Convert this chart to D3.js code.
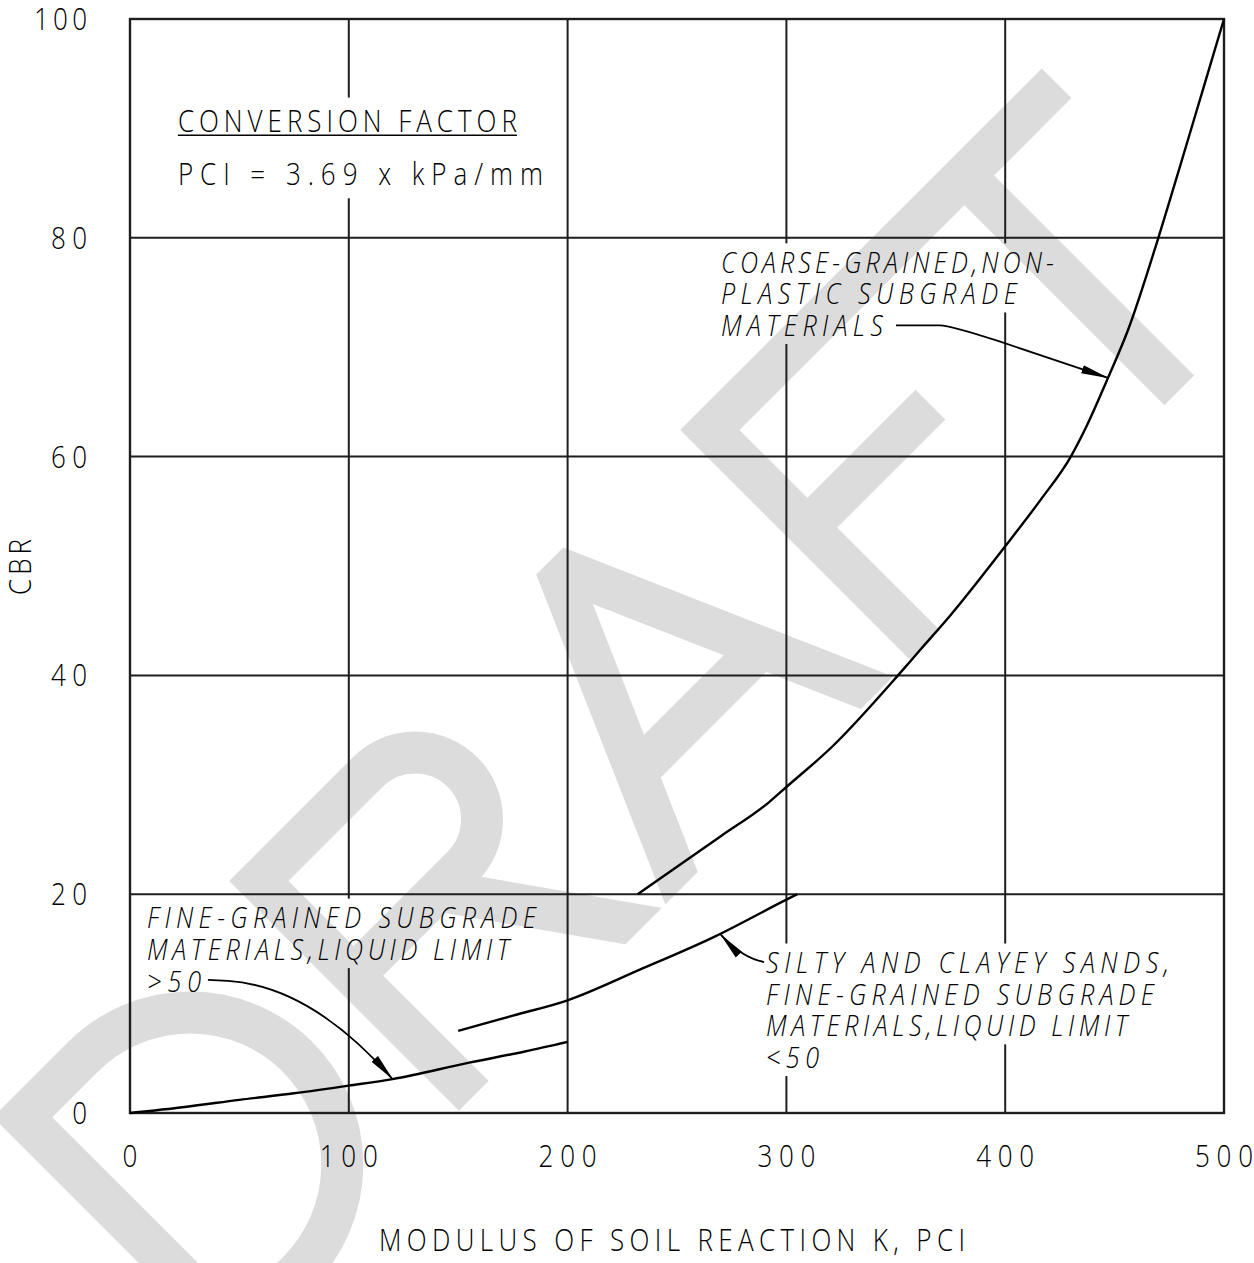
<!DOCTYPE html>
<html>
<head>
<meta charset="utf-8">
<script src="https://cdn.jsdelivr.net/npm/d3@7"></script>
<style>
  html, body { margin: 0; padding: 0; background: #fff; }
  svg { display: block; }
  text { font-family: "Open Sans", "DejaVu Sans", sans-serif; font-weight: 300; font-stretch: 100%; fill: #000; }
  text.note { font-style: italic; }
</style>
</head>
<body>
<svg id="chart" width="1254" height="1263"></svg>
<script>
// ---- Data: modulus of soil reaction K (pci) vs CBR for each soil group ----
const fineK    = [0, 25, 50, 75, 100, 120, 155, 180, 200];
const fineCBR  = [0, 0.55, 1.2, 1.8, 2.5, 3.1, 4.6, 5.6, 6.5];

const siltyK   = [150, 175, 200, 233, 267, 300, 305];
const siltyCBR = [7.5, 8.9, 10.3, 13.1, 16.1, 19.5, 20];

const coarseK   = [232, 250, 270, 292, 300, 321, 351, 361, 375, 400, 416, 430, 437, 447, 456, 470, 480, 490, 500];
const coarseCBR = [20, 22.5, 25.3, 28.4, 29.8, 33.5, 40, 42.3, 45.5, 51.8, 56, 60, 62.7, 67.2, 71.5, 80, 86.6, 93.3, 100];

const xTicks = [0, 100, 200, 300, 400, 500];
const yTicks = [0, 20, 40, 60, 80, 100];
const xTickLabels = ["0", "100", "200", "300", "400", "500"];
const yTickLabels = ["0", "20", "40", "60", "80", "100"];

const xTitle = "MODULUS OF SOIL REACTION K, PCI";
const yTitle = "CBR";

const conversionLines = ["CONVERSION FACTOR", "PCI = 3.69 x kPa/mm"];
const coarseLines = ["COARSE-GRAINED,NON-", "PLASTIC SUBGRADE", "MATERIALS"];
const fineLines   = ["FINE-GRAINED SUBGRADE", "MATERIALS,LIQUID LIMIT", ">50"];
const siltyLines  = ["SILTY AND CLAYEY SANDS,", "FINE-GRAINED SUBGRADE", "MATERIALS,LIQUID LIMIT", "<50"];

const watermarkWord = "DRAFT";

// ---- Setup ----
const W = 1254, H = 1263;
const svg = d3.select("#chart");
const defs = svg.append("defs");

const x = d3.scaleLinear().domain([0, 500]).range([130, 1224]);
const y = d3.scaleLinear().domain([0, 100]).range([1113, 19]);

// lettering is drawn slightly narrowed, like drafting text
const SQ = 0.84;

// arrowhead for the leader lines
defs.append("marker")
  .attr("id", "arrow")
  .attr("markerUnits", "userSpaceOnUse")
  .attr("viewBox", "0 0 28 10")
  .attr("markerWidth", 28).attr("markerHeight", 10)
  .attr("refX", 27).attr("refY", 5)
  .attr("orient", "auto")
  .append("path").attr("d", "M0,0.7 L28,5 L0,9.3 Z").attr("fill", "#000");

// grid lines are broken where they pass behind label text
const gapMask = defs.append("mask")
  .attr("id", "gridGaps")
  .attr("maskUnits", "userSpaceOnUse")
  .attr("x", 0).attr("y", 0).attr("width", W).attr("height", H);
gapMask.append("rect").attr("width", W).attr("height", H).attr("fill", "#fff");

const gWater  = svg.append("g").attr("class", "watermark");
const gGrid   = svg.append("g").attr("class", "grid").attr("mask", "url(#gridGaps)");
const gFrame  = svg.append("g").attr("class", "frame");
const gCurves = svg.append("g").attr("class", "curves");
const gLeads  = svg.append("g").attr("class", "leaders");
const gText   = svg.append("g").attr("class", "labels");

// ---- Watermark: stroke-built letters on a 45 degree baseline ----
(function drawWatermark() {
  const S = 304;          // cap height of the stroke letters
  const SW = 42;          // pen width
  const P = Math.PI;
  // glyph strokes; y = 0 is the baseline, y = -S the cap line
  const glyphs = {
    D: { adv: 1.099, strokes: [
      { clip: false, draw: p => { p.moveTo(0, 0); p.lineTo(0, -S); p.lineTo(0.28 * S, -S);
        p.arc(0.28 * S, -0.5 * S, 0.5 * S, -P / 2, P / 2); p.closePath(); } }
    ]},
    R: { adv: 1.421, strokes: [
      { clip: false, draw: p => { p.moveTo(0, 0); p.lineTo(0, -S); p.lineTo(0.507 * S, -S);
        p.arc(0.507 * S, -0.78 * S, 0.22 * S, -P / 2, P / 2); p.lineTo(0, -0.56 * S); } },
      { clip: true, draw: p => { p.moveTo(0.395 * S, -0.56 * S); p.lineTo(0.85 * S, 0.085 * S); } }
    ]},
    A: { adv: 0.677, strokes: [
      { clip: true, draw: p => { p.moveTo(-0.5 * S, 0.104 * S); p.lineTo(0, -1.04 * S); p.lineTo(0.5 * S, 0.104 * S); } },
      { clip: false, draw: p => { p.moveTo(-0.291 * S, -0.375 * S); p.lineTo(0.291 * S, -0.375 * S); } }
    ]},
    F: { adv: 1.184, strokes: [
      { clip: false, draw: p => { p.moveTo(0, 0); p.lineTo(0, -S); p.lineTo(0.77 * S, -S); } },
      { clip: false, draw: p => { p.moveTo(0, -0.546 * S); p.lineTo(0.572 * S, -0.546 * S); } }
    ]},
    T: { adv: 1.0, strokes: [
      { clip: false, draw: p => { p.moveTo(-0.429 * S, -S); p.lineTo(0.429 * S, -S); } },
      { clip: false, draw: p => { p.moveTo(0, -S); p.lineTo(0, 0); } }
    ]}
  };

  defs.append("clipPath").attr("id", "wmBase")
    .append("rect").attr("x", -4000).attr("y", -2 * S).attr("width", 8000).attr("height", 2 * S);

  const word = gWater.append("g").attr("transform", "rotate(-45) translate(-774,1110)");
  let pos = 0;
  for (const ch of watermarkWord) {
    const gl = glyphs[ch];
    const gLetter = word.append("g").attr("transform", `translate(${pos * S},0)`);
    const gClip = gLetter.append("g").attr("clip-path", "url(#wmBase)");
    gl.strokes.forEach(st => {
      const p = d3.path();
      st.draw(p);
      (st.clip ? gClip : gLetter).append("path")
        .attr("d", p.toString())
        .attr("fill", "none")
        .attr("stroke", "#dcdcdc")
        .attr("stroke-width", SW)
        .attr("stroke-linecap", "butt")
        .attr("stroke-linejoin", "miter")
        .attr("stroke-miterlimit", 2);
    });
    pos += gl.adv;
  }
})();

// ---- Grid and frame ----
gGrid.selectAll("line.vx").data(xTicks.slice(1, -1)).join("line")
  .attr("x1", d => x(d)).attr("x2", d => x(d))
  .attr("y1", y(100)).attr("y2", y(0))
  .attr("stroke", "#1e1e1e").attr("stroke-width", 2);
gGrid.selectAll("line.hy").data(yTicks.slice(1, -1)).join("line")
  .attr("x1", x(0)).attr("x2", x(500))
  .attr("y1", d => y(d)).attr("y2", d => y(d))
  .attr("stroke", "#1e1e1e").attr("stroke-width", 2);

gFrame.append("rect")
  .attr("x", x(0)).attr("y", y(100))
  .attr("width", x(500) - x(0)).attr("height", y(0) - y(100))
  .attr("fill", "none").attr("stroke", "#1e1e1e").attr("stroke-width", 2.4);

// ---- Curves ----
const curveLine = d3.line()
  .x(d => x(d[0])).y(d => y(d[1]))
  .curve(d3.curveMonotoneX);

const series = [
  d3.zip(fineK, fineCBR),
  d3.zip(siltyK, siltyCBR),
  d3.zip(coarseK, coarseCBR)
];
gCurves.selectAll("path").data(series).join("path")
  .attr("d", curveLine)
  .attr("fill", "none")
  .attr("stroke", "#000")
  .attr("stroke-width", 2.4)
  .attr("stroke-linejoin", "round");

// ---- Text helper: narrowed lettering stretched to a given run length ----
function drawText(parent, str, px, py, o) {
  const t = parent.append("text")
    .attr("transform", `translate(${px},${py})${o.rotate ? ` rotate(${o.rotate})` : ""} scale(${SQ},1)`)
    .attr("font-size", o.size)
    .attr("text-anchor", o.anchor || "start")
    .attr("class", o.italic ? "note" : null)
    .text(str);
  if (o.len && str.length > 1) t.attr("textLength", o.len / SQ).attr("lengthAdjust", "spacing");
  return t;
}

const tickSize = 31;
const cap = 0.714 * tickSize;

xTicks.forEach((d, i) => drawText(gText, xTickLabels[i], x(d), y(0) + 54,
  { size: tickSize, anchor: "middle", len: 58 }));

yTicks.forEach((d, i) => drawText(gText, yTickLabels[i], x(0) - 43, y(d) + cap / 2,
  { size: tickSize, anchor: "end", len: yTickLabels[i].length === 3 ? 53 : 36 }));

drawText(gText, xTitle, 672, y(0) + 138, { size: tickSize, anchor: "middle", len: 586 });
drawText(gText, yTitle, 31, y(50) + 1, { size: tickSize, anchor: "middle", len: 56, rotate: -90 });

// ---- Text blocks ----
function addBlock(lines, opts) {
  const g = gText.append("g");
  const px = x(opts.k);
  const nodes = lines.map((s, i) => drawText(g, s, px, y(opts.c) + i * opts.gap,
    { size: opts.size, len: opts.lens[i], italic: opts.italic }));
  const capH = 0.714 * opts.size;
  const boxes = nodes.map((n, i) => {
    const bb = n.node().getBBox();
    const base = y(opts.c) + i * opts.gap;
    return { x0: px + bb.x * SQ, x1: px + (bb.x + bb.width) * SQ, y0: base - capH, y1: base };
  });
  if (opts.underline) {
    const b = boxes[0];
    g.append("line").attr("x1", b.x0).attr("x2", b.x1)
      .attr("y1", b.y1 + 3.5).attr("y2", b.y1 + 3.5)
      .attr("stroke", "#000").attr("stroke-width", 1.6);
  }
  const pad = 8;
  if (opts.wholeBlock) {
    const x0 = d3.min(boxes, b => b.x0), x1 = d3.max(boxes, b => b.x1);
    const y0 = d3.min(boxes, b => b.y0), y1 = d3.max(boxes, b => b.y1);
    gapMask.append("rect").attr("x", x0 - 4).attr("y", y0 - 12)
      .attr("width", x1 - x0 + 8).attr("height", y1 - y0 + 25).attr("fill", "#000");
  } else {
    boxes.forEach(b => gapMask.append("rect")
      .attr("x", b.x0 - 4).attr("y", b.y0 - pad)
      .attr("width", b.x1 - b.x0 + 8).attr("height", b.y1 - b.y0 + 2 * pad)
      .attr("fill", "#000"));
  }
}

addBlock(conversionLines, { k: 21.9, c: 89.7, gap: 53.6, size: 31, lens: [339, 365], underline: true, wholeBlock: true });
addBlock(coarseLines, { k: 270.1, c: 76.8, gap: 31.6, size: 30, lens: [333, 296, 162], italic: true });
addBlock(fineLines,   { k: 7.8,   c: 16.9, gap: 32,   size: 30, lens: [389, 362, 54], italic: true });
addBlock(siltyLines,  { k: 290.7, c: 12.8, gap: 31.7, size: 30, lens: [403, 388, 361, 53], italic: true });

// ---- Leader lines with arrowheads ----
function leader(build) {
  const p = d3.path();
  build(p);
  gLeads.append("path")
    .attr("d", p.toString())
    .attr("fill", "none")
    .attr("stroke", "#000")
    .attr("stroke-width", 1.8)
    .attr("marker-end", "url(#arrow)");
}
// coarse-grained label to its curve
leader(p => {
  p.moveTo(x(350.1), y(72.0));
  p.lineTo(x(370.2), y(72.0));
  p.quadraticCurveTo(x(374.8), y(72.0), x(396.7), y(70.57));
  p.lineTo(x(447), y(67.2));
});
// fine-grained LL > 50 label to its curve
leader(p => {
  p.moveTo(x(35.6), y(12.16));
  p.lineTo(x(44.8), y(12.07));
  p.bezierCurveTo(x(73.1), y(11.7), x(98.3), y(8.04), x(120), y(3.1));
});
// silty / clayey sands label to its curve
leader(p => {
  p.moveTo(x(289.8), y(13.8));
  p.quadraticCurveTo(x(279.7), y(14.17), x(270), y(16.3));
});
</script>
</body>
</html>
